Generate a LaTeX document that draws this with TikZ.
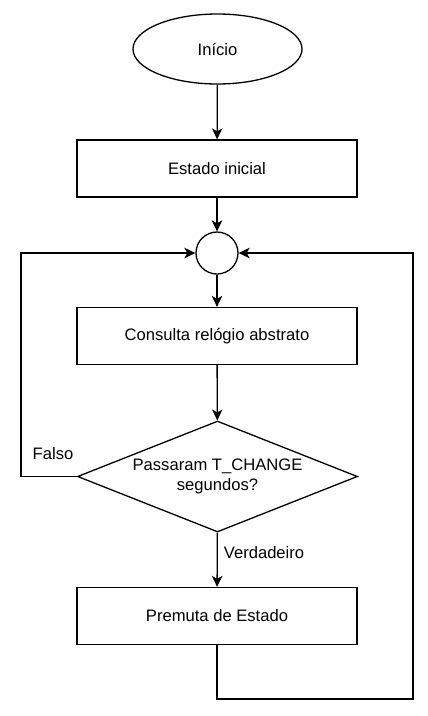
\documentclass[tikz,border=0pt]{standalone}
\usepackage{fontspec}
\setmainfont{Liberation Sans}
\usetikzlibrary{shapes.geometric,arrows.meta}
\begin{document}
\begin{tikzpicture}[x=1pt,y=-1pt,
  every node/.style={font=\fontsize{16.6}{19.5}\selectfont},
  box/.style={draw, line width=1.3pt, rectangle, minimum width=280pt, minimum height=57pt, inner sep=0pt},
  startnode/.style={draw, line width=1.3pt, ellipse, minimum width=169pt, minimum height=70pt, inner sep=0pt},
  joinnode/.style={draw, line width=1.3pt, circle, minimum size=42pt, inner sep=0pt},
  decision/.style={draw, line width=1.3pt, diamond, aspect=2.545, minimum width=280pt, minimum height=111pt, inner sep=0pt, align=center},
  arr/.style={line width=1.3pt, -{Stealth[length=11pt, width=10.5pt, inset=3pt]}},
  lbl/.style={inner sep=0pt}
]
\useasboundingbox (0,0) rectangle (428,716);
\node[startnode] (start) at (217.5,49) {Início};
\node[box] (s1) at (217,168.5) {Estado inicial};
\node[joinnode] (c) at (217,253) {};
\node[box] (r2) at (217,336) {Consulta relógio abstrato};
\node[decision] (d) at (217.5,476.5) {Passaram T\_CHANGE\\segundos?};
\node[box] (r3) at (217,616) {Premuta de Estado};
\coordinate (fl) at (21,476.5);
\coordinate (br) at (413,699);

\draw[arr] (start) -- (s1);
\draw[arr] (s1) -- (c);
\draw[arr] (c) -- (r2);
\draw[arr] (r2) -- (d);
\draw[arr] (d) -- node[lbl, pos=0.375, anchor=west, xshift=6pt] {Verdadeiro} (r3);
\draw[arr] (d.west) -- (fl) |- (c.west);
\node[lbl] (falso) at (53,454) {Falso};
\draw[arr] (r3.south) |- (br) |- (c.east);
\end{tikzpicture}
\end{document}
